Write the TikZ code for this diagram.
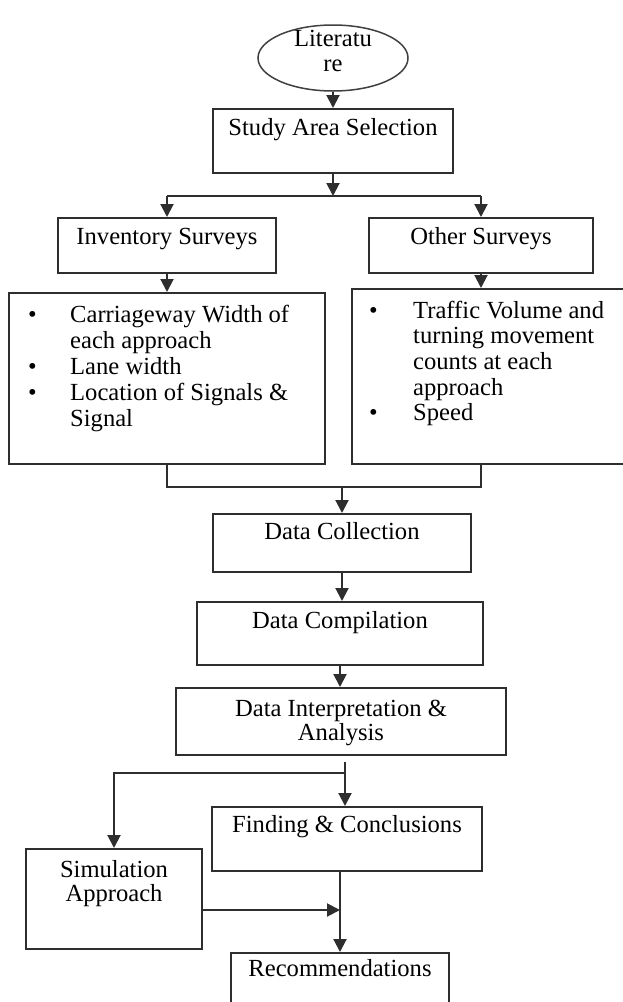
\documentclass[tikz,border=0pt]{standalone}
\usepackage{fontspec}
\setmainfont{Liberation Serif}
\usetikzlibrary{arrows.meta,shapes.geometric}
\tikzset{
  box/.style={draw=black!82, line width=2pt, inner sep=0pt, rectangle},
  oval/.style={draw=black!75, line width=1.5pt, inner sep=0pt, ellipse},
  lbl/.style={inner sep=0pt, font=\fontsize{24.6}{24.6}\selectfont, anchor=base},
  conn/.style={draw=black!82, line width=2pt},
  arr/.style={conn, -{Triangle[length=13pt,width=13pt]}},
}
\begin{document}
\begin{tikzpicture}[x=1pt,y=-1pt]
\useasboundingbox[fill=white] (0,0) rectangle (622,1002);
% shapes
\node[oval, minimum width=150pt, minimum height=66pt] (lit) at (333,58) {};
\node[box, minimum width=240pt, minimum height=64pt] (study) at (333,141) {};
\node[box, minimum width=218pt, minimum height=55pt] (inv) at (167,245.5) {};
\node[box, minimum width=224pt, minimum height=55pt] (other) at (481,245.5) {};
\node[box, minimum width=316pt, minimum height=171pt] (lbul) at (167,378.5) {};
\node[box, minimum width=288pt, minimum height=175pt] (rbul) at (496,376.5) {};
\node[box, minimum width=258pt, minimum height=58pt] (coll) at (342,543) {};
\node[box, minimum width=286pt, minimum height=63pt] (comp) at (340,633.5) {};
\node[box, minimum width=330pt, minimum height=67pt] (interp) at (341,721.5) {};
\node[box, minimum width=270pt, minimum height=64pt] (find) at (347,839) {};
\node[box, minimum width=176pt, minimum height=100pt] (sim) at (114,899) {};
\node[box, minimum width=218pt, minimum height=77pt] (rec) at (340,991.5) {};
% texts
\node[lbl] (lit-t) at ([yshift=-22pt]lit.north) {\fontsize{24.6}{25}\selectfont\begin{tabular}[t]{@{}c@{}}Literatu\\re\end{tabular}};
\node[lbl] (study-t) at ([yshift=-27pt]study.north) {Study Area Selection};
\node[lbl] (inv-t) at ([yshift=-27pt]inv.north) {Inventory Surveys};
\node[lbl] (other-t) at ([yshift=-27pt]other.north) {Other Surveys};
\node[lbl, anchor=base west] (lbul-t) at ([xshift=20pt,yshift=-30pt]lbul.north west)
  {\fontsize{24.6}{26}\selectfont\begin{tabular}[t]{@{}l@{}l@{}}
   \makebox[42pt][l]{\textbullet} & Carriageway Width of\\
   & each approach\\
   \makebox[42pt][l]{\textbullet} & Lane width\\
   \makebox[42pt][l]{\textbullet} & Location of Signals \&\\
   & Signal
  \end{tabular}};
\node[lbl, anchor=base west] (rbul-t) at ([xshift=18pt,yshift=-30pt]rbul.north west)
  {\fontsize{24.6}{25.7}\selectfont\begin{tabular}[t]{@{}l@{}l@{}}
   \makebox[44pt][l]{\textbullet} & Traffic Volume and\\
   & turning movement\\
   & counts at each\\
   & approach\\
   \makebox[44pt][l]{\textbullet} & Speed
  \end{tabular}};
\node[lbl] (coll-t) at ([yshift=-26pt]coll.north) {Data Collection};
\node[lbl] (comp-t) at ([yshift=-27pt]comp.north) {Data Compilation};
\node[lbl] (interp-t) at ([yshift=-29pt]interp.north) {\fontsize{24.6}{24}\selectfont\begin{tabular}[t]{@{}c@{}}Data Interpretation \&\\Analysis\end{tabular}};
\node[lbl] (find-t) at ([yshift=-26pt]find.north) {Finding \& Conclusions};
\node[lbl] (sim-t) at ([yshift=-29pt]sim.north) {\fontsize{24.6}{24}\selectfont\begin{tabular}[t]{@{}c@{}}Simulation\\Approach\end{tabular}};
\node[lbl] (rec-t) at ([yshift=-24pt]rec.north) {Recommendations};
% junction coordinates
\coordinate (s1) at (333,196);
\coordinate (m) at (342,487);
\coordinate (i0) at (345,762);
\coordinate (i1) at (345,773);
\coordinate (j) at (340,910);
% connectors
\draw[arr] (lit.south) -- (lit.south |- study.north);
\draw[arr] (study.south) -- (study.south |- s1);
\draw[conn] (inv.north |- s1) -- (other.north |- s1);
\draw[arr] (inv.north |- s1) -- (inv.north);
\draw[arr] (other.north |- s1) -- (other.north);
\draw[arr] (inv.south) -- (inv.south |- lbul.north);
\draw[arr] (other.south) -- (other.south |- rbul.north);
\draw[conn] (lbul.south) -- (lbul.south |- m) -- (other.south |- m) -- (other.south |- rbul.south);
\draw[arr] (m) -- (m |- coll.north);
\draw[arr] (coll.south) -- (coll.south |- comp.north);
\draw[arr] (comp.south) -- (comp.south |- interp.north);
\draw[arr] (i0) -- (i0 |- find.north);
\draw[arr] (i1) -- (sim.north |- i1) -- (sim.north);
\draw[arr] (find.south -| rec.north) -- (rec.north);
\draw[arr] (sim.east |- j) -- (j);
\end{tikzpicture}
\end{document}
